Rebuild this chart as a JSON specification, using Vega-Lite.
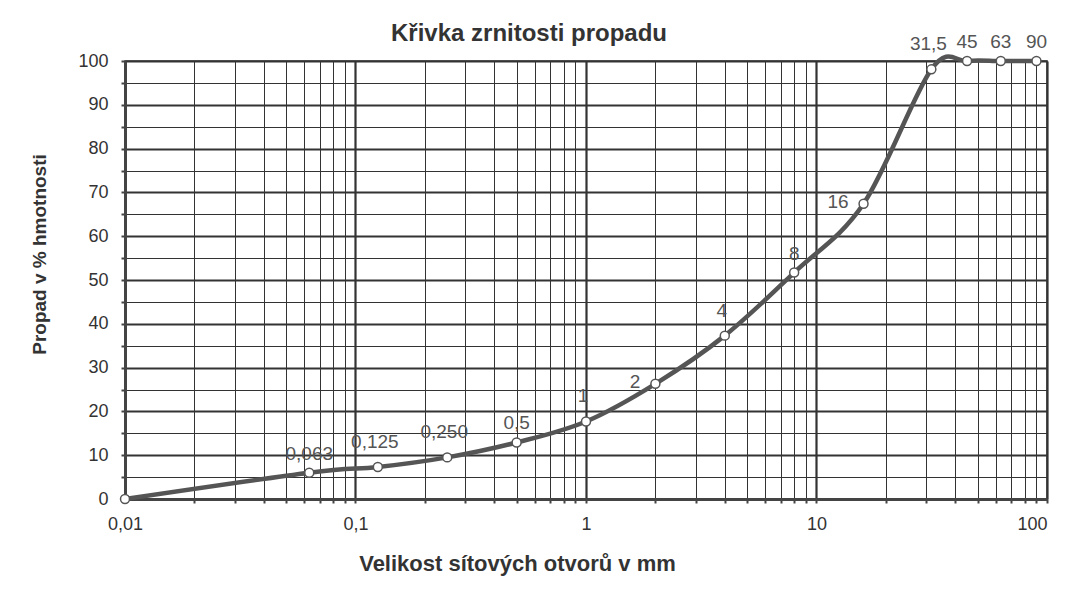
{
  "$schema": "https://vega.github.io/schema/vega-lite/v6.json",
  "width": 922,
  "height": 438,
  "autosize": "none",
  "padding": {"left": 125, "top": 61, "right": 35, "bottom": 95},
  "background": "white",
  "config": {
    "font": "Liberation Sans",
    "view": {"stroke": "#333", "strokeWidth": 1.5}
  },
  "title": {
    "text": "Křivka zrnitosti propadu",
    "fontSize": 24,
    "fontWeight": "bold",
    "color": "#333",
    "anchor": "middle",
    "frame": "group",
    "dx": -57,
    "offset": -13
  },
  "data": {
    "values": [
      {"mm": 0.01, "pct": 0, "label": ""},
      {"mm": 0.063, "pct": 6.0, "label": "0,063"},
      {"mm": 0.125, "pct": 7.3, "label": "0,125"},
      {"mm": 0.25, "pct": 9.5, "label": "0,250"},
      {"mm": 0.5, "pct": 12.9, "label": "0,5"},
      {"mm": 1, "pct": 17.7, "label": "1"},
      {"mm": 2, "pct": 26.3, "label": "2"},
      {"mm": 4, "pct": 37.3, "label": "4"},
      {"mm": 8, "pct": 51.7, "label": "8"},
      {"mm": 16, "pct": 67.4, "label": "16"},
      {"mm": 31.5, "pct": 98.1, "label": "31,5"},
      {"mm": 45, "pct": 100, "label": "45"},
      {"mm": 63, "pct": 100, "label": "63"},
      {"mm": 90, "pct": 100, "label": "90"}
    ]
  },
  "encoding": {
    "x": {
      "field": "mm",
      "type": "quantitative",
      "scale": {"type": "log", "domain": [0.01, 100], "nice": false},
      "axis": {
        "title": "Velikost sítových otvorů v mm",
        "titleFontSize": 22,
        "titleFontWeight": "bold",
        "titleColor": "#333",
        "titleX": 392,
        "titleY": 64,
        "titleAlign": "center",
        "titleBaseline": "middle",
        "values": [0.01,0.02,0.03,0.04,0.05,0.06,0.07,0.08,0.09,0.1,0.2,0.3,0.4,0.5,0.6,0.7,0.8,0.9,1,2,3,4,5,6,7,8,9,10,20,30,40,50,60,70,80,90,100],
        "labelExpr": "abs(log(datum.value)/LN10 - round(log(datum.value)/LN10)) < 1e-6 ? replace(toString(datum.value), '.', ',') : ''",
        "labelOverlap": false,
        "labelFlush": false,
        "labelAlign": {"condition": {"test": "datum.value >= 99", "value": "right"}, "value": "center"},
        "labelFontSize": 18,
        "labelColor": "#333",
        "labelPadding": 12,
        "tickSize": 4,
        "tickColor": "#444",
        "tickWidth": 2,
        "domainColor": "#444",
        "domainWidth": 3,
        "grid": true,
        "gridColor": "#333",
        "gridOpacity": 1,
        "gridWidth": {"condition": {"test": "abs(log(datum.value)/LN10 - round(log(datum.value)/LN10)) < 1e-6", "value": 2.2}, "value": 1}
      }
    },
    "y": {
      "field": "pct",
      "type": "quantitative",
      "scale": {"domain": [0, 100], "nice": false},
      "axis": {
        "title": "Propad v % hmotnosti",
        "titleFontSize": 19,
        "titleFontWeight": "bold",
        "titleColor": "#333",
        "titleX": -86,
        "titleY": 193,
        "titleAlign": "center",
        "titleBaseline": "middle",
        "values": [0,5,10,15,20,25,30,35,40,45,50,55,60,65,70,75,80,85,90,95,100],
        "labelExpr": "datum.value % 10 == 0 ? toString(datum.value) : ''",
        "labelOverlap": false,
        "labelFlush": false,
        "labelFontSize": 18,
        "labelColor": "#333",
        "labelPadding": 13,
        "tickSize": 4,
        "tickColor": "#444",
        "tickWidth": 2,
        "domainColor": "#444",
        "domainWidth": 3,
        "grid": true,
        "gridColor": "#333",
        "gridOpacity": 1,
        "gridWidth": {"condition": {"test": "datum.value % 10 == 0", "value": 2}, "value": 1}
      }
    }
  },
  "layer": [
    {
      "mark": {"type": "line", "interpolate": "cardinal", "color": "#555", "strokeWidth": 4.5}
    },
    {
      "mark": {"type": "point", "shape": "circle", "filled": true, "fill": "white", "stroke": "#555", "strokeWidth": 1.5, "size": 80, "opacity": 1}
    },
    {
      "transform": [{"filter": {"field": "label", "oneOf": ["0,063", "0,5", "8", "45", "63", "90"]}}],
      "mark": {"type": "text", "fontSize": 19, "color": "#555", "dy": -19, "align": "center", "baseline": "middle"},
      "encoding": {"text": {"field": "label"}}
    },
    {
      "transform": [{"filter": {"field": "label", "oneOf": ["0,125", "0,250", "1", "4", "31,5"]}}],
      "mark": {"type": "text", "fontSize": 19, "color": "#555", "dy": -25, "dx": -3, "align": "center", "baseline": "middle"},
      "encoding": {"text": {"field": "label"}}
    },
    {
      "transform": [{"filter": {"field": "label", "oneOf": ["2", "16"]}}],
      "mark": {"type": "text", "fontSize": 19, "color": "#555", "dy": -2, "dx": -15, "align": "right", "baseline": "middle"},
      "encoding": {"text": {"field": "label"}}
    }
  ]
}
